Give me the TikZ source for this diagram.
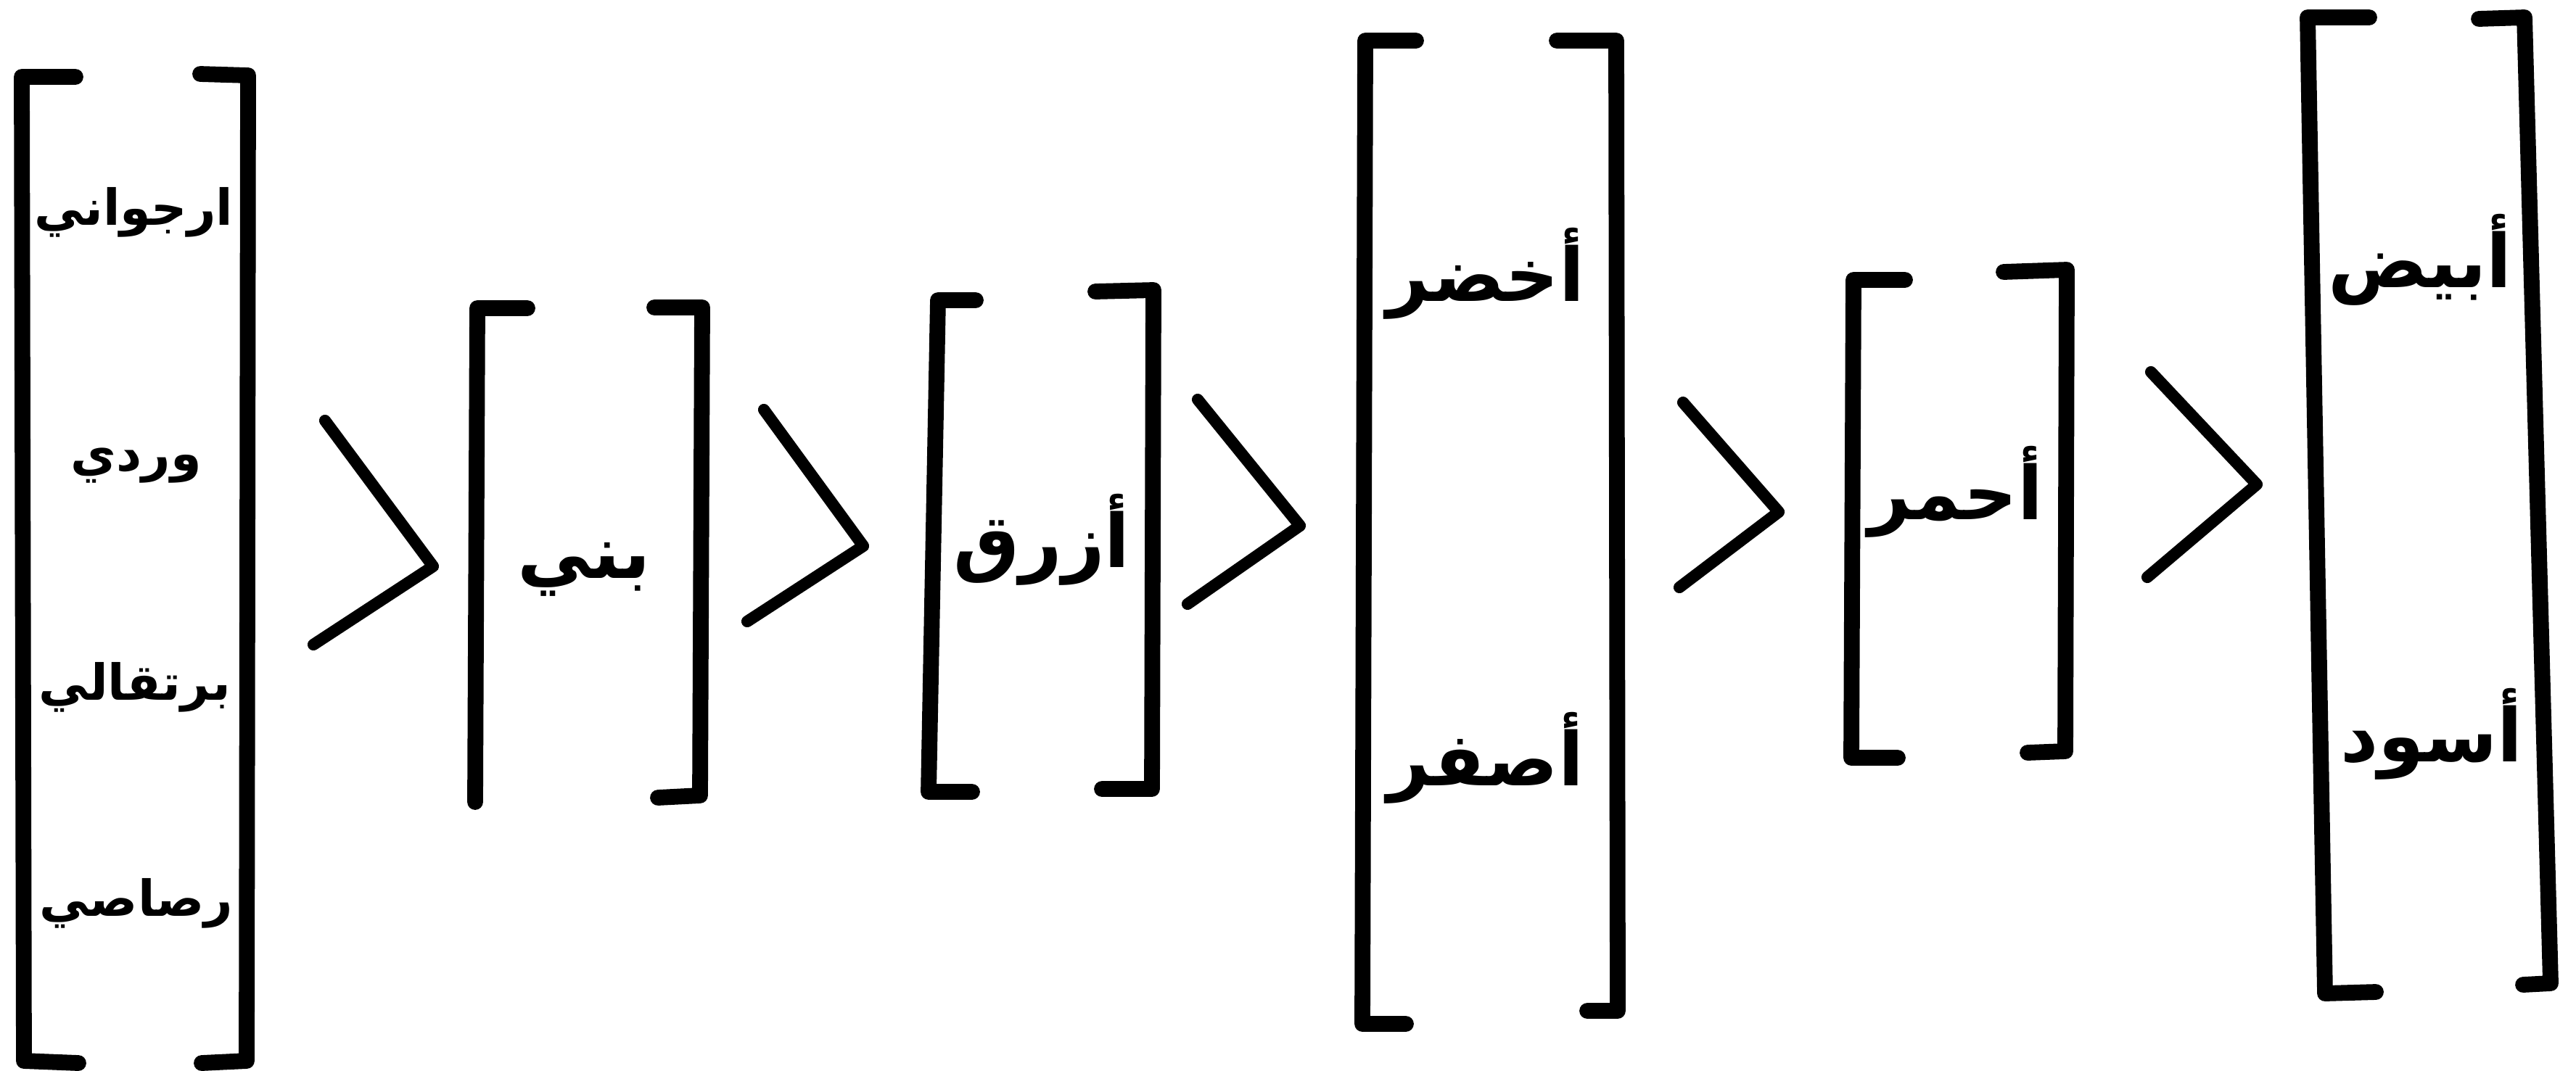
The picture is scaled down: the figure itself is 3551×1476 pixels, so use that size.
\documentclass[tikz,border=0pt]{standalone}
\usepackage{fontspec}
\newfontfamily\arabicfont[Script=Arabic]{DejaVu Sans}
\TeXXeTstate=1
\newcommand{\artxt}[1]{{\arabicfont\bfseries\beginR #1\endR}}
\begin{document}
\begin{tikzpicture}[x=0.1mm,y=-0.1mm,
  brk/.style={line width=6.2pt, line cap=round, line join=round},
  gtsign/.style={line width=4.6pt, line cap=round, line join=round},
  lbl/.style={inner sep=0pt, font=\fontsize{29}{35}\selectfont},
  lblsmall/.style={inner sep=0pt, font=\fontsize{19.5}{24}\selectfont}]
\useasboundingbox (0,0) rectangle (3551,1476);
\fill[white] (0,0) rectangle (3551,1476);

% bracket group 1
\draw[brk] (104,106) -- (30,106) -- (33,1463) -- (108,1466);
\draw[brk] (276,102) -- (342,104) -- (340,1463) -- (278,1466);
\node[lblsmall] (purple) at (184,293) {\artxt{ارجواني}};
\node[lblsmall] (pink)   at (188,642) {\artxt{وردي}};
\node[lblsmall] (orange) at (186,948) {\artxt{برتقالي}};
\node[lblsmall] (grey)   at (188,1246) {\artxt{رصاصي}};

% > 1
\draw[gtsign] (448,580) -- (597,781) -- (432,889);

% bracket group 2
\draw[brk] (727,425) -- (658,425) -- (655,1106);
\draw[brk] (902,424) -- (968,424) -- (965,1097) -- (907,1100);
\node[lbl] (brown) at (805,785) {\artxt{بني}};

% > 2
\draw[gtsign] (1053,565) -- (1190,753) -- (1030,857);

% bracket group 3
\draw[brk] (1345,414) -- (1293,414) -- (1280,1092) -- (1340,1092);
\draw[brk] (1510,402) -- (1590,400) -- (1588,1088) -- (1519,1088);
\node[lbl] (blue) at (1436,744) {\artxt{أزرق}};

% > 3
\draw[gtsign] (1651,551) -- (1792,725) -- (1637,833);

% bracket group 4
\draw[brk] (1952,56) -- (1882,56) -- (1878,1412) -- (1938,1412);
\draw[brk] (2146,56) -- (2228,56) -- (2230,1394) -- (2188,1394);
\node[lbl] (green)  at (2048,377) {\artxt{أخضر}};
\node[lbl] (yellow) at (2048,1045) {\artxt{أصفر}};

% > 4
\draw[gtsign] (2320,555) -- (2452,706) -- (2315,810);

% bracket group 5
\draw[brk] (2626,386) -- (2555,386) -- (2552,1045) -- (2616,1045);
\draw[brk] (2762,375) -- (2849,372) -- (2847,1036) -- (2795,1038);
\node[lbl] (red) at (2696,678) {\artxt{أحمر}};

% > 5
\draw[gtsign] (2965,513) -- (3111,668) -- (2960,796);

% bracket group 6
\draw[brk] (3266,24) -- (3181,24) -- (3205,1370) -- (3275,1368);
\draw[brk] (3417,26) -- (3480,24) -- (3516,1356) -- (3478,1358);
\node[lbl] (white) at (3336,358) {\artxt{أبيض}};
\node[lbl] (black) at (3352,1012) {\artxt{أسود}};
\end{tikzpicture}
\end{document}
